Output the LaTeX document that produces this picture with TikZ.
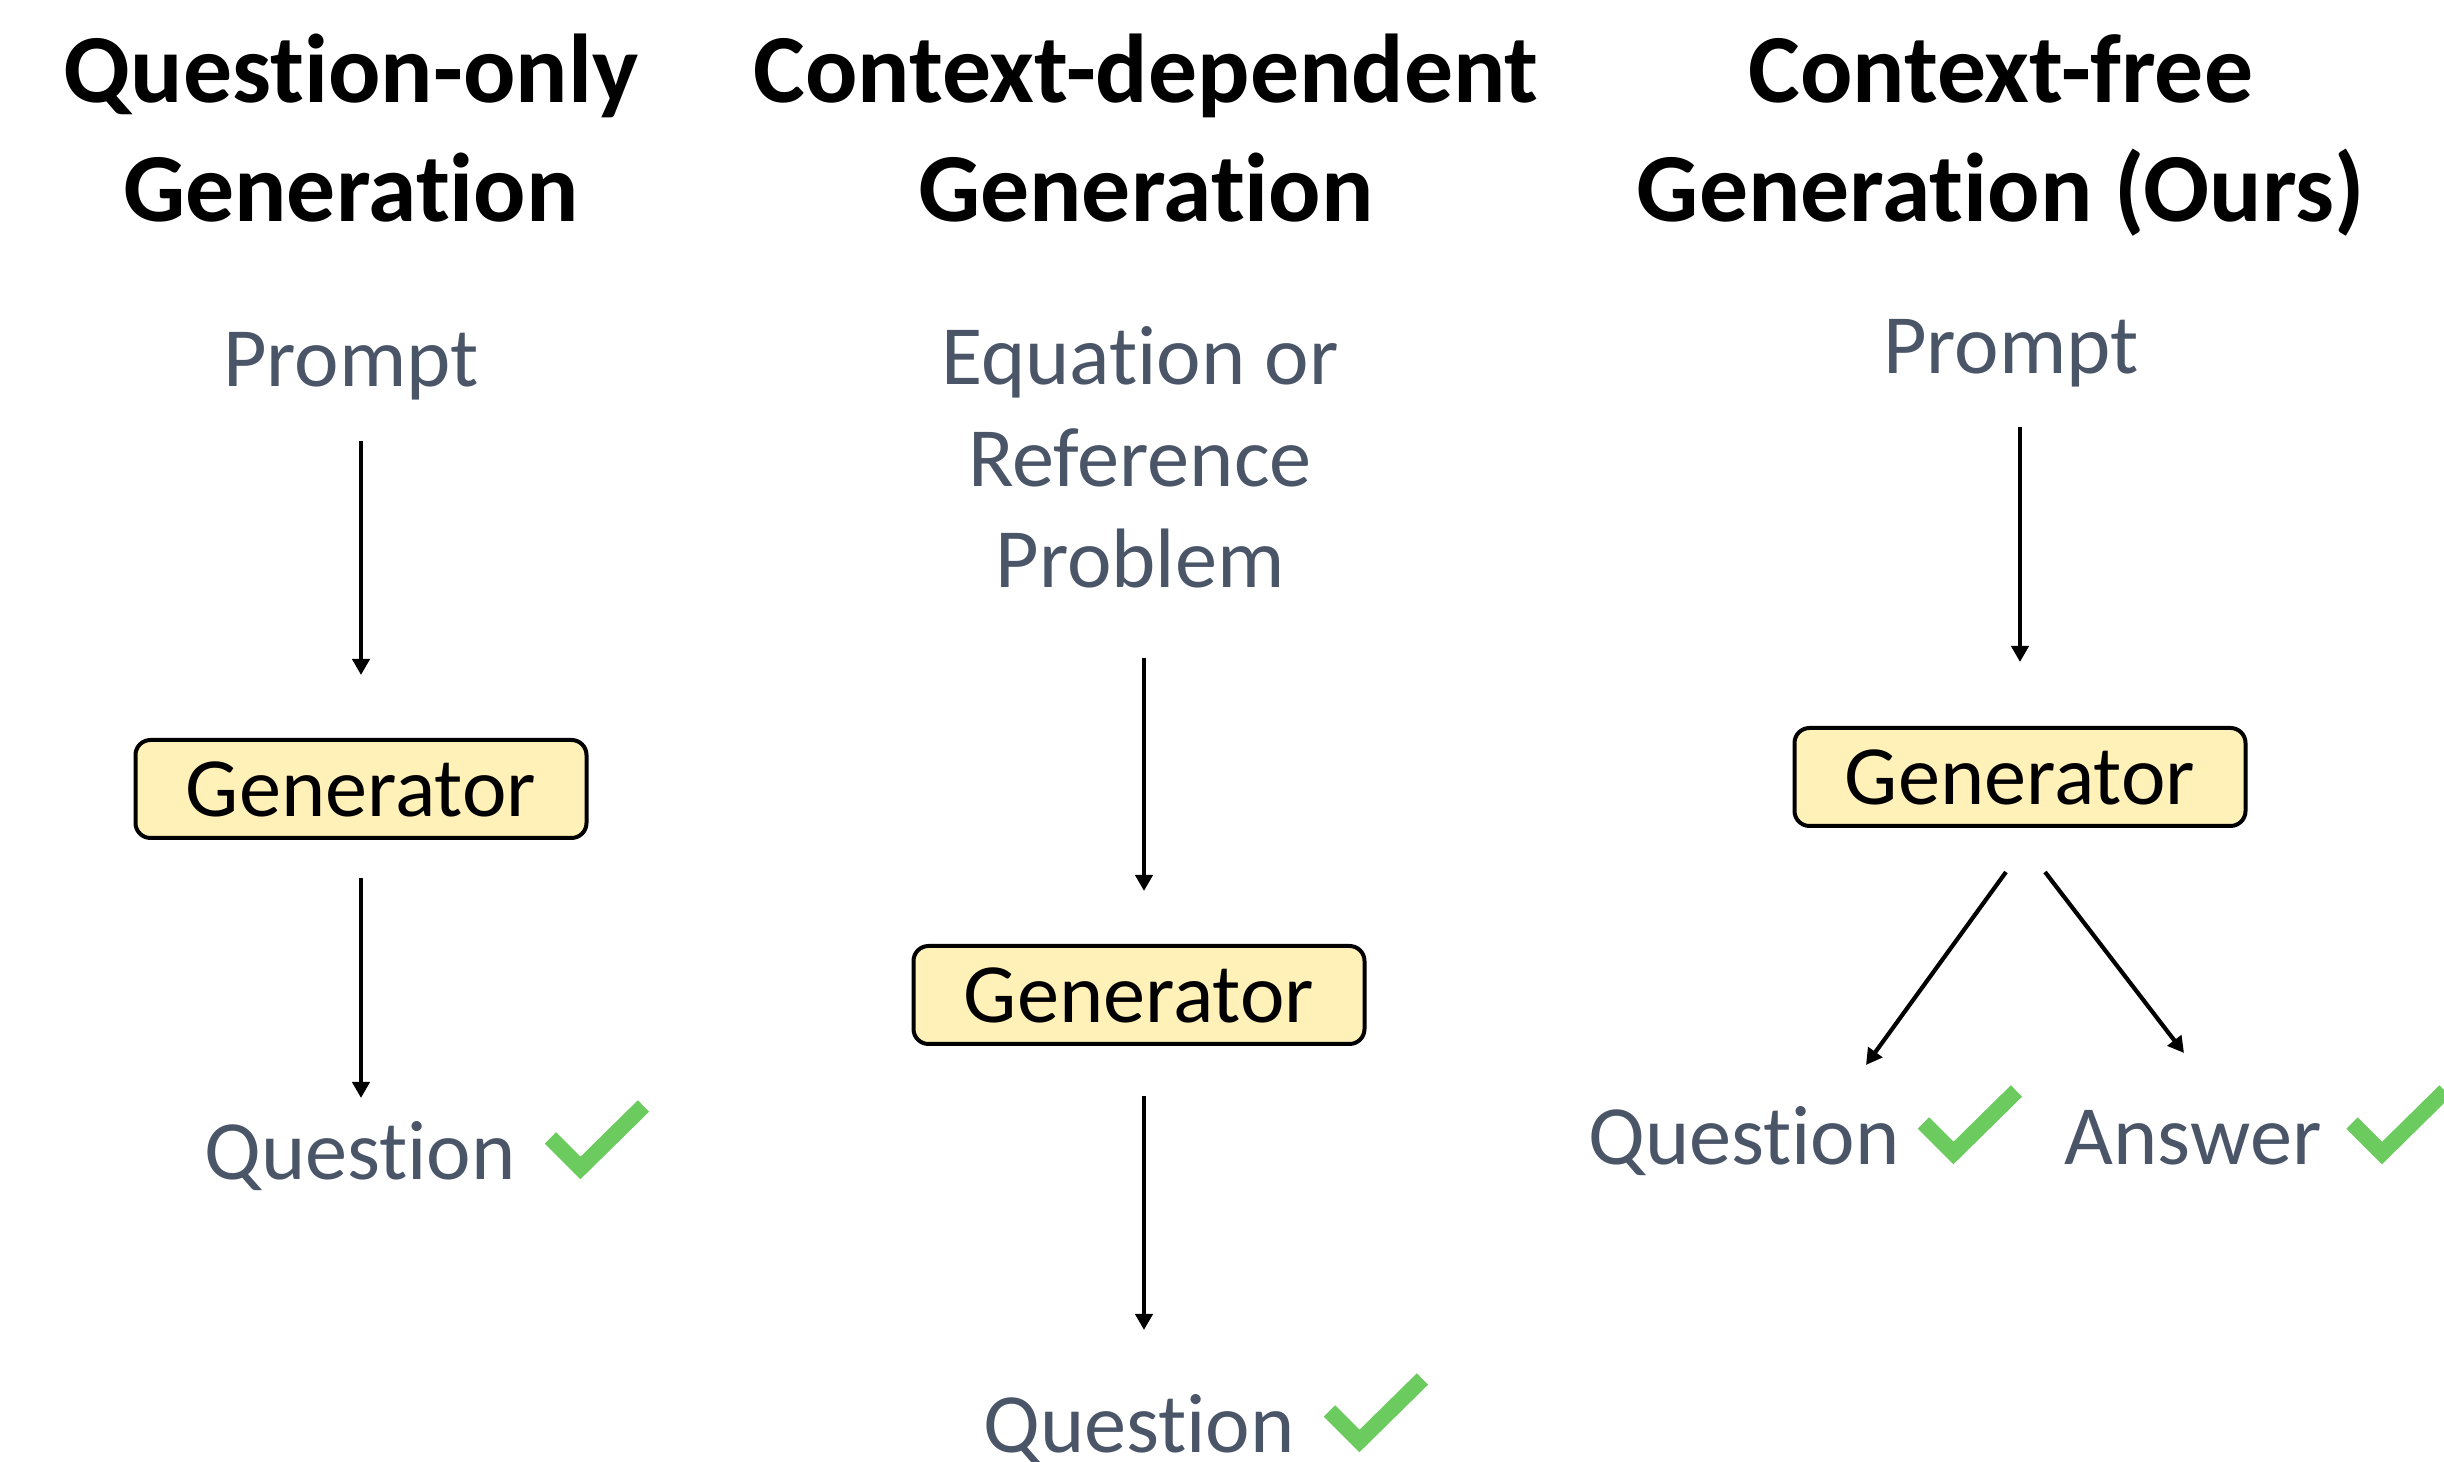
\documentclass[tikz,border=0pt]{standalone}
\usepackage{fontspec}
\setmainfont{Carlito}[Ligatures=NoCommon]
\usetikzlibrary{arrows.meta,positioning,calc}
\definecolor{label}{RGB}{74,85,104}
\definecolor{genfill}{RGB}{255,241,184}
\definecolor{okgreen}{RGB}{108,203,95}

\begin{document}
\begin{tikzpicture}[
    title/.style={font=\fontsize{27.8}{34.1}\selectfont\bfseries, align=center, inner sep=0pt},
    txt/.style={font=\fontsize{24}{28.9}\selectfont, text=label, align=center, inner sep=0pt},
    gen/.style={rectangle, rounded corners=0.15cm, draw=black, line width=0.04cm, fill=genfill,
                minimum width=4.51cm, minimum height=0.98cm, font=\fontsize{24}{29}\selectfont},
    arr/.style={-{Triangle[length=0.16cm,width=0.17cm]}, line width=0.042cm},
    okmark/.pic={\draw[okgreen, line width=0.16cm] (0.06,0.42) -- (0.36,0.12) -- (0.99,0.74);}
]
    \useasboundingbox (0,0) rectangle (24.44,-14.62);

    % Titles (base = last line)
    \node[title, anchor=base] (t1) at (3.51,-2.22) {Question-only\\Generation};
    \node[title, anchor=base] (t2) at (11.46,-2.22) {Context-dependent\\Generation};
    \node[title, anchor=base] (t3) at (20.01,-2.22) {Context-free\\Generation (Ours)};

    % Inputs
    \node[txt, anchor=base] (p1) at (3.51,-3.87) {Prompt};
    \node[txt, anchor=base] (p2) at (11.40,-5.88) {Equation or\\Reference\\Problem};
    \node[txt, anchor=base] (p3) at (20.11,-3.74) {Prompt};

    % Generators
    \node[gen] (g1) at (3.61,-7.89) {Generator};
    \node[gen] (g2) at (11.39,-9.95) {Generator};
    \node[gen] (g3) at (20.20,-7.77) {Generator};

    % Outputs
    \node[txt, anchor=base] (q1) at (3.60,-11.80) {Question};
    \node[txt, anchor=base] (q2) at (11.39,-14.53) {Question};
    \node[txt, anchor=base] (q3) at (17.44,-11.65) {Question};
    \node[txt, anchor=base] (a3) at (21.93,-11.65) {Answer};

    % Checks
    \pic at ([xshift=0.28cm]q1.base east) {okmark};
    \pic at ([xshift=0.28cm]q2.base east) {okmark};
    \pic at ([xshift=0.17cm]q3.base east) {okmark};
    \pic at ([xshift=0.24cm]a3.base east) {okmark};

    % Arrows
    \draw[arr, shorten <=0.54cm, shorten >=0.63cm] (g1.north |- p1.base) -- (g1.north);
    \draw[arr, shorten <=0.38cm, shorten >=0.82cm] (g1.south) -- (g1.south |- q1.base);
    \draw[arr, shorten <=0.70cm, shorten >=0.53cm] ([xshift=0.05cm]g2.north |- p2.base) -- ([xshift=0.05cm]g2.north);
    \draw[arr, shorten <=0.50cm, shorten >=1.23cm] ([xshift=0.05cm]g2.south) -- ([xshift=0.05cm]g2.south |- q2.base);
    \draw[arr, shorten <=0.53cm, shorten >=0.64cm] (g3.north |- p3.base) -- (g3.north);
    \draw[arr] ([xshift=-0.14cm, yshift=-0.44cm]g3.south) -- ([xshift=1.22cm, yshift=1.00cm]q3.base);
    \draw[arr] ([xshift=0.25cm, yshift=-0.44cm]g3.south) -- ([xshift=-0.09cm, yshift=1.12cm]a3.base);
\end{tikzpicture}
\end{document}
